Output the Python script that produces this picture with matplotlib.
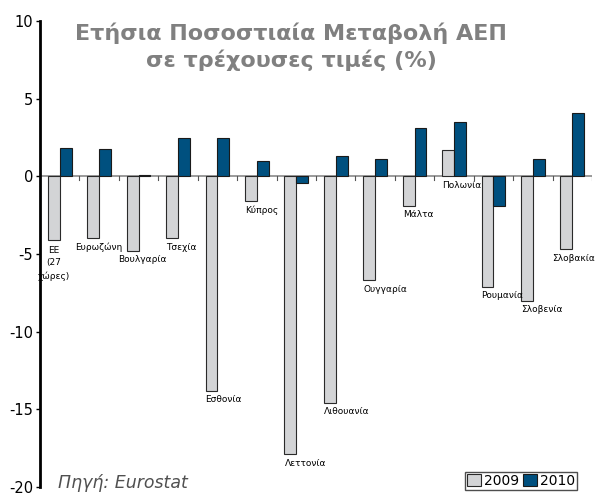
import numpy as np
import matplotlib
matplotlib.use('Agg')
import matplotlib.pyplot as plt

# данные
countries = ['ΕΕ\n(27\nχώρες)', 'Ευρωζώνη', 'Βουλγαρία', 'Τσεχία', 'Εσθονία', 'Κύπρος',
             'Λεττονία', 'Λιθουανία', 'Ουγγαρία', 'Μάλτα', 'Πολωνία', 'Ρουμανία',
             'Σλοβενία', 'Σλοβακία']
v2009 = [-4.1, -4.0, -4.8, -4.0, -13.8, -1.6, -17.9, -14.6, -6.7, -1.9, 1.7, -7.1, -8.0, -4.7]
v2010 = [1.8, 1.75, 0.1, 2.45, 2.45, 1.0, -0.4, 1.3, 1.1, 3.1, 3.5, -1.9, 1.1, 4.1]
years = ['2009', '2010']
yticks = [-20, -15, -10, -5, 0, 5, 10]

plt.rcParams['font.family'] = ['DejaVu Sans']

fig = plt.figure(figsize=(5.95, 4.96), dpi=100)
ax = fig.add_axes([40/595, 1 - 487/496, 552/595, 466/496])

x = np.arange(len(countries)) + 0.5
w = 0.3
ax.bar(x - w/2, v2009, w, color='#d3d4d6', edgecolor='#2a2a2a', linewidth=0.8, label=years[0], zorder=2)
ax.bar(x + w/2, v2010, w, color='#00507f', edgecolor='#1a1a1a', linewidth=0.8, label=years[1], zorder=2)

ax.set_xlim(0, len(countries))
ax.set_ylim(-20, 10)
ax.set_yticks(yticks)
ax.set_yticklabels([str(t) for t in yticks], fontsize=10.5)
ax.tick_params(axis='y', length=3, width=1, pad=2)

# ось x по нулю
ax.axhline(0, color='#8a8a8a', linewidth=1.2, zorder=1)
for i in range(1, len(countries) + 1):
    ax.plot([i, i], [0, -0.22], color='#555555', linewidth=0.8, zorder=1)
ax.set_xticks([])

for s in ['top', 'right', 'bottom']:
    ax.spines[s].set_visible(False)
ax.spines['left'].set_linewidth(2)

# подписи стран
nudge = {1: -0.3, 2: -0.22, 13: -0.22}
for i, name in enumerate(countries):
    low = min(v2009[i], v2010[i], 0)
    xl = x[i] - w + nudge.get(i, 0)
    if i == 0:
        ax.annotate(name, (x[i] - w/2, low), xytext=(0, -4), textcoords='offset points',
                    ha='center', va='top', fontsize=6.5, linespacing=1.55)
    else:
        ax.annotate(name, (xl, low), xytext=(0, -3), textcoords='offset points',
                    ha='left', va='top', fontsize=6.5, annotation_clip=False)

fig.text(291/595, 1 - 47/496, 'Ετήσια Ποσοστιαία Μεταβολή ΑΕΠ\nσε τρέχουσες τιμές (%)',
         ha='center', va='center', fontsize=16, fontweight='bold', color='#808080',
         linespacing=1.3)

fig.text(58/595, 1 - 492/496, 'Πηγή: Eurostat', ha='left', va='bottom',
         fontsize=12.5, style='italic', color='#505050')

leg = ax.legend(loc='lower right', bbox_to_anchor=(577/595, 6/496), bbox_transform=fig.transFigure,
                ncol=2, fontsize=10, frameon=True, fancybox=False, edgecolor='#222222',
                handlelength=1.0, handleheight=1.0, handletextpad=0.2, columnspacing=0.3,
                borderpad=0.15, borderaxespad=0)
leg.get_frame().set_linewidth(1)

plt.savefig('out.png', dpi=100)
